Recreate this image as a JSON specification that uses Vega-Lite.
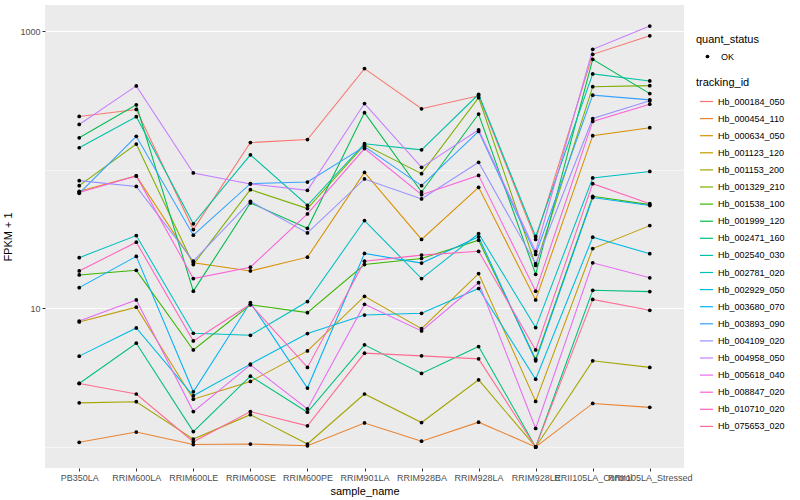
{
"$schema": "https://vega.github.io/schema/vega-lite/v6.json",
"width": 639, "height": 463,
"autosize": {"type": "none"},
"padding": {"left": 45, "top": 5, "right": 116, "bottom": 32},
"background": "white",
"data": {"values": [
{"tracking_id":"Hb_000184_050","sample_name":"PB350LA","fpkm":242,"quant_status":"OK"},
{"tracking_id":"Hb_000184_050","sample_name":"RRIM600LA","fpkm":272,"quant_status":"OK"},
{"tracking_id":"Hb_000184_050","sample_name":"RRIM600LE","fpkm":37.0,"quant_status":"OK"},
{"tracking_id":"Hb_000184_050","sample_name":"RRIM600SE","fpkm":157,"quant_status":"OK"},
{"tracking_id":"Hb_000184_050","sample_name":"RRIM600PE","fpkm":165,"quant_status":"OK"},
{"tracking_id":"Hb_000184_050","sample_name":"RRIM901LA","fpkm":536,"quant_status":"OK"},
{"tracking_id":"Hb_000184_050","sample_name":"RRIM928BA","fpkm":275,"quant_status":"OK"},
{"tracking_id":"Hb_000184_050","sample_name":"RRIM928LA","fpkm":341,"quant_status":"OK"},
{"tracking_id":"Hb_000184_050","sample_name":"RRIM928LE","fpkm":31.4,"quant_status":"OK"},
{"tracking_id":"Hb_000184_050","sample_name":"RRII105LA_Control","fpkm":680,"quant_status":"OK"},
{"tracking_id":"Hb_000184_050","sample_name":"RRII105LA_Stressed","fpkm":925,"quant_status":"OK"},
{"tracking_id":"Hb_000454_110","sample_name":"PB350LA","fpkm":1.08,"quant_status":"OK"},
{"tracking_id":"Hb_000454_110","sample_name":"RRIM600LA","fpkm":1.28,"quant_status":"OK"},
{"tracking_id":"Hb_000454_110","sample_name":"RRIM600LE","fpkm":1.04,"quant_status":"OK"},
{"tracking_id":"Hb_000454_110","sample_name":"RRIM600SE","fpkm":1.05,"quant_status":"OK"},
{"tracking_id":"Hb_000454_110","sample_name":"RRIM600PE","fpkm":1.02,"quant_status":"OK"},
{"tracking_id":"Hb_000454_110","sample_name":"RRIM901LA","fpkm":1.49,"quant_status":"OK"},
{"tracking_id":"Hb_000454_110","sample_name":"RRIM928BA","fpkm":1.10,"quant_status":"OK"},
{"tracking_id":"Hb_000454_110","sample_name":"RRIM928LA","fpkm":1.51,"quant_status":"OK"},
{"tracking_id":"Hb_000454_110","sample_name":"RRIM928LE","fpkm":1.0,"quant_status":"OK"},
{"tracking_id":"Hb_000454_110","sample_name":"RRII105LA_Control","fpkm":2.06,"quant_status":"OK"},
{"tracking_id":"Hb_000454_110","sample_name":"RRII105LA_Stressed","fpkm":1.93,"quant_status":"OK"},
{"tracking_id":"Hb_000634_050","sample_name":"PB350LA","fpkm":69.8,"quant_status":"OK"},
{"tracking_id":"Hb_000634_050","sample_name":"RRIM600LA","fpkm":90.1,"quant_status":"OK"},
{"tracking_id":"Hb_000634_050","sample_name":"RRIM600LE","fpkm":21.3,"quant_status":"OK"},
{"tracking_id":"Hb_000634_050","sample_name":"RRIM600SE","fpkm":18.6,"quant_status":"OK"},
{"tracking_id":"Hb_000634_050","sample_name":"RRIM600PE","fpkm":23.4,"quant_status":"OK"},
{"tracking_id":"Hb_000634_050","sample_name":"RRIM901LA","fpkm":95.6,"quant_status":"OK"},
{"tracking_id":"Hb_000634_050","sample_name":"RRIM928BA","fpkm":31.4,"quant_status":"OK"},
{"tracking_id":"Hb_000634_050","sample_name":"RRIM928LA","fpkm":74.6,"quant_status":"OK"},
{"tracking_id":"Hb_000634_050","sample_name":"RRIM928LE","fpkm":11.5,"quant_status":"OK"},
{"tracking_id":"Hb_000634_050","sample_name":"RRII105LA_Control","fpkm":176,"quant_status":"OK"},
{"tracking_id":"Hb_000634_050","sample_name":"RRII105LA_Stressed","fpkm":201,"quant_status":"OK"},
{"tracking_id":"Hb_001123_120","sample_name":"PB350LA","fpkm":7.97,"quant_status":"OK"},
{"tracking_id":"Hb_001123_120","sample_name":"RRIM600LA","fpkm":10.2,"quant_status":"OK"},
{"tracking_id":"Hb_001123_120","sample_name":"RRIM600LE","fpkm":2.21,"quant_status":"OK"},
{"tracking_id":"Hb_001123_120","sample_name":"RRIM600SE","fpkm":2.97,"quant_status":"OK"},
{"tracking_id":"Hb_001123_120","sample_name":"RRIM600PE","fpkm":4.93,"quant_status":"OK"},
{"tracking_id":"Hb_001123_120","sample_name":"RRIM901LA","fpkm":12.2,"quant_status":"OK"},
{"tracking_id":"Hb_001123_120","sample_name":"RRIM928BA","fpkm":7.14,"quant_status":"OK"},
{"tracking_id":"Hb_001123_120","sample_name":"RRIM928LA","fpkm":17.8,"quant_status":"OK"},
{"tracking_id":"Hb_001123_120","sample_name":"RRIM928LE","fpkm":2.13,"quant_status":"OK"},
{"tracking_id":"Hb_001123_120","sample_name":"RRII105LA_Control","fpkm":27.0,"quant_status":"OK"},
{"tracking_id":"Hb_001123_120","sample_name":"RRII105LA_Stressed","fpkm":39.5,"quant_status":"OK"},
{"tracking_id":"Hb_001153_200","sample_name":"PB350LA","fpkm":2.08,"quant_status":"OK"},
{"tracking_id":"Hb_001153_200","sample_name":"RRIM600LA","fpkm":2.12,"quant_status":"OK"},
{"tracking_id":"Hb_001153_200","sample_name":"RRIM600LE","fpkm":1.14,"quant_status":"OK"},
{"tracking_id":"Hb_001153_200","sample_name":"RRIM600SE","fpkm":1.71,"quant_status":"OK"},
{"tracking_id":"Hb_001153_200","sample_name":"RRIM600PE","fpkm":1.05,"quant_status":"OK"},
{"tracking_id":"Hb_001153_200","sample_name":"RRIM901LA","fpkm":2.41,"quant_status":"OK"},
{"tracking_id":"Hb_001153_200","sample_name":"RRIM928BA","fpkm":1.50,"quant_status":"OK"},
{"tracking_id":"Hb_001153_200","sample_name":"RRIM928LA","fpkm":3.05,"quant_status":"OK"},
{"tracking_id":"Hb_001153_200","sample_name":"RRIM928LE","fpkm":1.0,"quant_status":"OK"},
{"tracking_id":"Hb_001153_200","sample_name":"RRII105LA_Control","fpkm":4.18,"quant_status":"OK"},
{"tracking_id":"Hb_001153_200","sample_name":"RRII105LA_Stressed","fpkm":3.75,"quant_status":"OK"},
{"tracking_id":"Hb_001329_210","sample_name":"PB350LA","fpkm":76.7,"quant_status":"OK"},
{"tracking_id":"Hb_001329_210","sample_name":"RRIM600LA","fpkm":153,"quant_status":"OK"},
{"tracking_id":"Hb_001329_210","sample_name":"RRIM600LE","fpkm":20.7,"quant_status":"OK"},
{"tracking_id":"Hb_001329_210","sample_name":"RRIM600SE","fpkm":71.8,"quant_status":"OK"},
{"tracking_id":"Hb_001329_210","sample_name":"RRIM600PE","fpkm":52.4,"quant_status":"OK"},
{"tracking_id":"Hb_001329_210","sample_name":"RRIM901LA","fpkm":151,"quant_status":"OK"},
{"tracking_id":"Hb_001329_210","sample_name":"RRIM928BA","fpkm":93.6,"quant_status":"OK"},
{"tracking_id":"Hb_001329_210","sample_name":"RRIM928LA","fpkm":331,"quant_status":"OK"},
{"tracking_id":"Hb_001329_210","sample_name":"RRIM928LE","fpkm":20.4,"quant_status":"OK"},
{"tracking_id":"Hb_001329_210","sample_name":"RRII105LA_Control","fpkm":397,"quant_status":"OK"},
{"tracking_id":"Hb_001329_210","sample_name":"RRII105LA_Stressed","fpkm":404,"quant_status":"OK"},
{"tracking_id":"Hb_001538_100","sample_name":"PB350LA","fpkm":17.4,"quant_status":"OK"},
{"tracking_id":"Hb_001538_100","sample_name":"RRIM600LA","fpkm":18.8,"quant_status":"OK"},
{"tracking_id":"Hb_001538_100","sample_name":"RRIM600LE","fpkm":5.01,"quant_status":"OK"},
{"tracking_id":"Hb_001538_100","sample_name":"RRIM600SE","fpkm":10.6,"quant_status":"OK"},
{"tracking_id":"Hb_001538_100","sample_name":"RRIM600PE","fpkm":9.31,"quant_status":"OK"},
{"tracking_id":"Hb_001538_100","sample_name":"RRIM901LA","fpkm":20.7,"quant_status":"OK"},
{"tracking_id":"Hb_001538_100","sample_name":"RRIM928BA","fpkm":22.9,"quant_status":"OK"},
{"tracking_id":"Hb_001538_100","sample_name":"RRIM928LA","fpkm":31.0,"quant_status":"OK"},
{"tracking_id":"Hb_001538_100","sample_name":"RRIM928LE","fpkm":4.30,"quant_status":"OK"},
{"tracking_id":"Hb_001538_100","sample_name":"RRII105LA_Control","fpkm":64.3,"quant_status":"OK"},
{"tracking_id":"Hb_001538_100","sample_name":"RRII105LA_Stressed","fpkm":56.0,"quant_status":"OK"},
{"tracking_id":"Hb_001999_120","sample_name":"PB350LA","fpkm":170,"quant_status":"OK"},
{"tracking_id":"Hb_001999_120","sample_name":"RRIM600LA","fpkm":294,"quant_status":"OK"},
{"tracking_id":"Hb_001999_120","sample_name":"RRIM600LE","fpkm":13.3,"quant_status":"OK"},
{"tracking_id":"Hb_001999_120","sample_name":"RRIM600SE","fpkm":57.6,"quant_status":"OK"},
{"tracking_id":"Hb_001999_120","sample_name":"RRIM600PE","fpkm":37.8,"quant_status":"OK"},
{"tracking_id":"Hb_001999_120","sample_name":"RRIM901LA","fpkm":258,"quant_status":"OK"},
{"tracking_id":"Hb_001999_120","sample_name":"RRIM928BA","fpkm":69.1,"quant_status":"OK"},
{"tracking_id":"Hb_001999_120","sample_name":"RRIM928LA","fpkm":252,"quant_status":"OK"},
{"tracking_id":"Hb_001999_120","sample_name":"RRIM928LE","fpkm":17.6,"quant_status":"OK"},
{"tracking_id":"Hb_001999_120","sample_name":"RRII105LA_Control","fpkm":626,"quant_status":"OK"},
{"tracking_id":"Hb_001999_120","sample_name":"RRII105LA_Stressed","fpkm":354,"quant_status":"OK"},
{"tracking_id":"Hb_002471_160","sample_name":"PB350LA","fpkm":2.87,"quant_status":"OK"},
{"tracking_id":"Hb_002471_160","sample_name":"RRIM600LA","fpkm":5.60,"quant_status":"OK"},
{"tracking_id":"Hb_002471_160","sample_name":"RRIM600LE","fpkm":1.29,"quant_status":"OK"},
{"tracking_id":"Hb_002471_160","sample_name":"RRIM600SE","fpkm":3.24,"quant_status":"OK"},
{"tracking_id":"Hb_002471_160","sample_name":"RRIM600PE","fpkm":1.78,"quant_status":"OK"},
{"tracking_id":"Hb_002471_160","sample_name":"RRIM901LA","fpkm":5.45,"quant_status":"OK"},
{"tracking_id":"Hb_002471_160","sample_name":"RRIM928BA","fpkm":3.39,"quant_status":"OK"},
{"tracking_id":"Hb_002471_160","sample_name":"RRIM928LA","fpkm":5.30,"quant_status":"OK"},
{"tracking_id":"Hb_002471_160","sample_name":"RRIM928LE","fpkm":1.0,"quant_status":"OK"},
{"tracking_id":"Hb_002471_160","sample_name":"RRII105LA_Control","fpkm":13.5,"quant_status":"OK"},
{"tracking_id":"Hb_002471_160","sample_name":"RRII105LA_Stressed","fpkm":13.2,"quant_status":"OK"},
{"tracking_id":"Hb_002540_030","sample_name":"PB350LA","fpkm":144,"quant_status":"OK"},
{"tracking_id":"Hb_002540_030","sample_name":"RRIM600LA","fpkm":241,"quant_status":"OK"},
{"tracking_id":"Hb_002540_030","sample_name":"RRIM600LE","fpkm":40.7,"quant_status":"OK"},
{"tracking_id":"Hb_002540_030","sample_name":"RRIM600SE","fpkm":128,"quant_status":"OK"},
{"tracking_id":"Hb_002540_030","sample_name":"RRIM600PE","fpkm":55.4,"quant_status":"OK"},
{"tracking_id":"Hb_002540_030","sample_name":"RRIM901LA","fpkm":154,"quant_status":"OK"},
{"tracking_id":"Hb_002540_030","sample_name":"RRIM928BA","fpkm":139,"quant_status":"OK"},
{"tracking_id":"Hb_002540_030","sample_name":"RRIM928LA","fpkm":350,"quant_status":"OK"},
{"tracking_id":"Hb_002540_030","sample_name":"RRIM928LE","fpkm":33.0,"quant_status":"OK"},
{"tracking_id":"Hb_002540_030","sample_name":"RRII105LA_Control","fpkm":491,"quant_status":"OK"},
{"tracking_id":"Hb_002540_030","sample_name":"RRII105LA_Stressed","fpkm":437,"quant_status":"OK"},
{"tracking_id":"Hb_002781_020","sample_name":"PB350LA","fpkm":23.2,"quant_status":"OK"},
{"tracking_id":"Hb_002781_020","sample_name":"RRIM600LA","fpkm":33.5,"quant_status":"OK"},
{"tracking_id":"Hb_002781_020","sample_name":"RRIM600LE","fpkm":6.61,"quant_status":"OK"},
{"tracking_id":"Hb_002781_020","sample_name":"RRIM600SE","fpkm":6.39,"quant_status":"OK"},
{"tracking_id":"Hb_002781_020","sample_name":"RRIM600PE","fpkm":11.2,"quant_status":"OK"},
{"tracking_id":"Hb_002781_020","sample_name":"RRIM901LA","fpkm":43.0,"quant_status":"OK"},
{"tracking_id":"Hb_002781_020","sample_name":"RRIM928BA","fpkm":16.4,"quant_status":"OK"},
{"tracking_id":"Hb_002781_020","sample_name":"RRIM928LA","fpkm":34.6,"quant_status":"OK"},
{"tracking_id":"Hb_002781_020","sample_name":"RRIM928LE","fpkm":7.26,"quant_status":"OK"},
{"tracking_id":"Hb_002781_020","sample_name":"RRII105LA_Control","fpkm":87.2,"quant_status":"OK"},
{"tracking_id":"Hb_002781_020","sample_name":"RRII105LA_Stressed","fpkm":97.2,"quant_status":"OK"},
{"tracking_id":"Hb_002929_050","sample_name":"PB350LA","fpkm":4.52,"quant_status":"OK"},
{"tracking_id":"Hb_002929_050","sample_name":"RRIM600LA","fpkm":7.22,"quant_status":"OK"},
{"tracking_id":"Hb_002929_050","sample_name":"RRIM600LE","fpkm":2.34,"quant_status":"OK"},
{"tracking_id":"Hb_002929_050","sample_name":"RRIM600SE","fpkm":3.96,"quant_status":"OK"},
{"tracking_id":"Hb_002929_050","sample_name":"RRIM600PE","fpkm":6.58,"quant_status":"OK"},
{"tracking_id":"Hb_002929_050","sample_name":"RRIM901LA","fpkm":8.95,"quant_status":"OK"},
{"tracking_id":"Hb_002929_050","sample_name":"RRIM928BA","fpkm":9.20,"quant_status":"OK"},
{"tracking_id":"Hb_002929_050","sample_name":"RRIM928LA","fpkm":13.9,"quant_status":"OK"},
{"tracking_id":"Hb_002929_050","sample_name":"RRIM928LE","fpkm":3.08,"quant_status":"OK"},
{"tracking_id":"Hb_002929_050","sample_name":"RRII105LA_Control","fpkm":32.6,"quant_status":"OK"},
{"tracking_id":"Hb_002929_050","sample_name":"RRII105LA_Stressed","fpkm":24.8,"quant_status":"OK"},
{"tracking_id":"Hb_003680_070","sample_name":"PB350LA","fpkm":14.1,"quant_status":"OK"},
{"tracking_id":"Hb_003680_070","sample_name":"RRIM600LA","fpkm":23.7,"quant_status":"OK"},
{"tracking_id":"Hb_003680_070","sample_name":"RRIM600LE","fpkm":2.50,"quant_status":"OK"},
{"tracking_id":"Hb_003680_070","sample_name":"RRIM600SE","fpkm":11.0,"quant_status":"OK"},
{"tracking_id":"Hb_003680_070","sample_name":"RRIM600PE","fpkm":2.66,"quant_status":"OK"},
{"tracking_id":"Hb_003680_070","sample_name":"RRIM901LA","fpkm":24.9,"quant_status":"OK"},
{"tracking_id":"Hb_003680_070","sample_name":"RRIM928BA","fpkm":21.2,"quant_status":"OK"},
{"tracking_id":"Hb_003680_070","sample_name":"RRIM928LA","fpkm":32.8,"quant_status":"OK"},
{"tracking_id":"Hb_003680_070","sample_name":"RRIM928LE","fpkm":4.18,"quant_status":"OK"},
{"tracking_id":"Hb_003680_070","sample_name":"RRII105LA_Control","fpkm":63.0,"quant_status":"OK"},
{"tracking_id":"Hb_003680_070","sample_name":"RRII105LA_Stressed","fpkm":55.1,"quant_status":"OK"},
{"tracking_id":"Hb_003893_090","sample_name":"PB350LA","fpkm":67.5,"quant_status":"OK"},
{"tracking_id":"Hb_003893_090","sample_name":"RRIM600LA","fpkm":174,"quant_status":"OK"},
{"tracking_id":"Hb_003893_090","sample_name":"RRIM600LE","fpkm":33.7,"quant_status":"OK"},
{"tracking_id":"Hb_003893_090","sample_name":"RRIM600SE","fpkm":79.3,"quant_status":"OK"},
{"tracking_id":"Hb_003893_090","sample_name":"RRIM600PE","fpkm":81.5,"quant_status":"OK"},
{"tracking_id":"Hb_003893_090","sample_name":"RRIM901LA","fpkm":147,"quant_status":"OK"},
{"tracking_id":"Hb_003893_090","sample_name":"RRIM928BA","fpkm":76.7,"quant_status":"OK"},
{"tracking_id":"Hb_003893_090","sample_name":"RRIM928LA","fpkm":189,"quant_status":"OK"},
{"tracking_id":"Hb_003893_090","sample_name":"RRIM928LE","fpkm":24.5,"quant_status":"OK"},
{"tracking_id":"Hb_003893_090","sample_name":"RRII105LA_Control","fpkm":345,"quant_status":"OK"},
{"tracking_id":"Hb_003893_090","sample_name":"RRII105LA_Stressed","fpkm":319,"quant_status":"OK"},
{"tracking_id":"Hb_004109_020","sample_name":"PB350LA","fpkm":83.4,"quant_status":"OK"},
{"tracking_id":"Hb_004109_020","sample_name":"RRIM600LA","fpkm":75.8,"quant_status":"OK"},
{"tracking_id":"Hb_004109_020","sample_name":"RRIM600LE","fpkm":21.9,"quant_status":"OK"},
{"tracking_id":"Hb_004109_020","sample_name":"RRIM600SE","fpkm":59.1,"quant_status":"OK"},
{"tracking_id":"Hb_004109_020","sample_name":"RRIM600PE","fpkm":35.0,"quant_status":"OK"},
{"tracking_id":"Hb_004109_020","sample_name":"RRIM901LA","fpkm":85.7,"quant_status":"OK"},
{"tracking_id":"Hb_004109_020","sample_name":"RRIM928BA","fpkm":61.5,"quant_status":"OK"},
{"tracking_id":"Hb_004109_020","sample_name":"RRIM928LA","fpkm":113,"quant_status":"OK"},
{"tracking_id":"Hb_004109_020","sample_name":"RRIM928LE","fpkm":21.0,"quant_status":"OK"},
{"tracking_id":"Hb_004109_020","sample_name":"RRII105LA_Control","fpkm":234,"quant_status":"OK"},
{"tracking_id":"Hb_004109_020","sample_name":"RRII105LA_Stressed","fpkm":314,"quant_status":"OK"},
{"tracking_id":"Hb_004958_050","sample_name":"PB350LA","fpkm":212,"quant_status":"OK"},
{"tracking_id":"Hb_004958_050","sample_name":"RRIM600LA","fpkm":402,"quant_status":"OK"},
{"tracking_id":"Hb_004958_050","sample_name":"RRIM600LE","fpkm":94.7,"quant_status":"OK"},
{"tracking_id":"Hb_004958_050","sample_name":"RRIM600SE","fpkm":79.0,"quant_status":"OK"},
{"tracking_id":"Hb_004958_050","sample_name":"RRIM600PE","fpkm":71.0,"quant_status":"OK"},
{"tracking_id":"Hb_004958_050","sample_name":"RRIM901LA","fpkm":300,"quant_status":"OK"},
{"tracking_id":"Hb_004958_050","sample_name":"RRIM928BA","fpkm":104,"quant_status":"OK"},
{"tracking_id":"Hb_004958_050","sample_name":"RRIM928LA","fpkm":194,"quant_status":"OK"},
{"tracking_id":"Hb_004958_050","sample_name":"RRIM928LE","fpkm":25.7,"quant_status":"OK"},
{"tracking_id":"Hb_004958_050","sample_name":"RRII105LA_Control","fpkm":739,"quant_status":"OK"},
{"tracking_id":"Hb_004958_050","sample_name":"RRII105LA_Stressed","fpkm":1087,"quant_status":"OK"},
{"tracking_id":"Hb_005618_040","sample_name":"PB350LA","fpkm":8.1,"quant_status":"OK"},
{"tracking_id":"Hb_005618_040","sample_name":"RRIM600LA","fpkm":11.5,"quant_status":"OK"},
{"tracking_id":"Hb_005618_040","sample_name":"RRIM600LE","fpkm":1.80,"quant_status":"OK"},
{"tracking_id":"Hb_005618_040","sample_name":"RRIM600SE","fpkm":3.91,"quant_status":"OK"},
{"tracking_id":"Hb_005618_040","sample_name":"RRIM600PE","fpkm":1.88,"quant_status":"OK"},
{"tracking_id":"Hb_005618_040","sample_name":"RRIM901LA","fpkm":10.7,"quant_status":"OK"},
{"tracking_id":"Hb_005618_040","sample_name":"RRIM928BA","fpkm":6.87,"quant_status":"OK"},
{"tracking_id":"Hb_005618_040","sample_name":"RRIM928LA","fpkm":15.3,"quant_status":"OK"},
{"tracking_id":"Hb_005618_040","sample_name":"RRIM928LE","fpkm":1.36,"quant_status":"OK"},
{"tracking_id":"Hb_005618_040","sample_name":"RRII105LA_Control","fpkm":21.3,"quant_status":"OK"},
{"tracking_id":"Hb_005618_040","sample_name":"RRII105LA_Stressed","fpkm":16.6,"quant_status":"OK"},
{"tracking_id":"Hb_008847_020","sample_name":"PB350LA","fpkm":68.5,"quant_status":"OK"},
{"tracking_id":"Hb_008847_020","sample_name":"RRIM600LA","fpkm":90.1,"quant_status":"OK"},
{"tracking_id":"Hb_008847_020","sample_name":"RRIM600LE","fpkm":16.4,"quant_status":"OK"},
{"tracking_id":"Hb_008847_020","sample_name":"RRIM600SE","fpkm":19.8,"quant_status":"OK"},
{"tracking_id":"Hb_008847_020","sample_name":"RRIM600PE","fpkm":48.0,"quant_status":"OK"},
{"tracking_id":"Hb_008847_020","sample_name":"RRIM901LA","fpkm":142,"quant_status":"OK"},
{"tracking_id":"Hb_008847_020","sample_name":"RRIM928BA","fpkm":66.1,"quant_status":"OK"},
{"tracking_id":"Hb_008847_020","sample_name":"RRIM928LA","fpkm":91.0,"quant_status":"OK"},
{"tracking_id":"Hb_008847_020","sample_name":"RRIM928LE","fpkm":13.3,"quant_status":"OK"},
{"tracking_id":"Hb_008847_020","sample_name":"RRII105LA_Control","fpkm":223,"quant_status":"OK"},
{"tracking_id":"Hb_008847_020","sample_name":"RRII105LA_Stressed","fpkm":297,"quant_status":"OK"},
{"tracking_id":"Hb_010710_020","sample_name":"PB350LA","fpkm":18.6,"quant_status":"OK"},
{"tracking_id":"Hb_010710_020","sample_name":"RRIM600LA","fpkm":30.0,"quant_status":"OK"},
{"tracking_id":"Hb_010710_020","sample_name":"RRIM600LE","fpkm":5.82,"quant_status":"OK"},
{"tracking_id":"Hb_010710_020","sample_name":"RRIM600SE","fpkm":10.7,"quant_status":"OK"},
{"tracking_id":"Hb_010710_020","sample_name":"RRIM600PE","fpkm":3.75,"quant_status":"OK"},
{"tracking_id":"Hb_010710_020","sample_name":"RRIM901LA","fpkm":21.9,"quant_status":"OK"},
{"tracking_id":"Hb_010710_020","sample_name":"RRIM928BA","fpkm":24.2,"quant_status":"OK"},
{"tracking_id":"Hb_010710_020","sample_name":"RRIM928LA","fpkm":25.8,"quant_status":"OK"},
{"tracking_id":"Hb_010710_020","sample_name":"RRIM928LE","fpkm":5.01,"quant_status":"OK"},
{"tracking_id":"Hb_010710_020","sample_name":"RRII105LA_Control","fpkm":79.3,"quant_status":"OK"},
{"tracking_id":"Hb_010710_020","sample_name":"RRII105LA_Stressed","fpkm":56.9,"quant_status":"OK"},
{"tracking_id":"Hb_075653_020","sample_name":"PB350LA","fpkm":2.87,"quant_status":"OK"},
{"tracking_id":"Hb_075653_020","sample_name":"RRIM600LA","fpkm":2.41,"quant_status":"OK"},
{"tracking_id":"Hb_075653_020","sample_name":"RRIM600LE","fpkm":1.09,"quant_status":"OK"},
{"tracking_id":"Hb_075653_020","sample_name":"RRIM600SE","fpkm":1.80,"quant_status":"OK"},
{"tracking_id":"Hb_075653_020","sample_name":"RRIM600PE","fpkm":1.42,"quant_status":"OK"},
{"tracking_id":"Hb_075653_020","sample_name":"RRIM901LA","fpkm":4.75,"quant_status":"OK"},
{"tracking_id":"Hb_075653_020","sample_name":"RRIM928BA","fpkm":4.54,"quant_status":"OK"},
{"tracking_id":"Hb_075653_020","sample_name":"RRIM928LA","fpkm":4.32,"quant_status":"OK"},
{"tracking_id":"Hb_075653_020","sample_name":"RRIM928LE","fpkm":1.0,"quant_status":"OK"},
{"tracking_id":"Hb_075653_020","sample_name":"RRII105LA_Control","fpkm":11.6,"quant_status":"OK"},
{"tracking_id":"Hb_075653_020","sample_name":"RRII105LA_Stressed","fpkm":9.67,"quant_status":"OK"}
]},
"encoding": {
  "x": {"field": "sample_name", "type": "ordinal",
        "sort": ["PB350LA","RRIM600LA","RRIM600LE","RRIM600SE","RRIM600PE","RRIM901LA","RRIM928BA","RRIM928LA","RRIM928LE","RRII105LA_Control","RRII105LA_Stressed"],
        "scale": {"type": "point", "padding": 0.6},
        "axis": {"title": "sample_name", "labelAngle": 0, "labelOverlap": false, "labelBound": false, "labelFlush": false, "gridWidth": 1.1, "titlePadding": 3}},
  "y": {"field": "fpkm", "type": "quantitative",
        "scale": {"type": "log", "domain": [0.705, 1542], "nice": false, "zero": false},
        "axis": {"title": "FPKM + 1", "values": [1, 10, 100, 1000], "format": "d",
                 "labelExpr": "datum.value == 10 || datum.value == 1000 ? datum.label : ''",
                 "tickOpacity": {"condition": {"test": "datum.value == 10 || datum.value == 1000", "value": 1}, "value": 0},
                 "gridWidth": {"condition": {"test": "datum.value == 10 || datum.value == 1000", "value": 1.1}, "value": 0.55},
                 "titlePadding": 6}}
},
"layer": [
  {"mark": {"type": "line", "strokeWidth": 1.05},
   "encoding": {
     "color": {"field": "tracking_id", "type": "nominal",
               "scale": {"range": ["#F8766D","#EA8331","#D89000","#C09B00","#A3A500","#7CAE00","#39B600","#00BB4E","#00BF7D","#00C1A3","#00BFC4","#00BAE0","#00B0F6","#35A2FF","#9590FF","#C77CFF","#E76BF3","#FA62DB","#FF62BC","#FF6C91"]},
               "legend": {"title": "tracking_id", "orient": "none", "legendX": 651, "legendY": 72, "symbolType": "stroke", "symbolSize": 169, "symbolStrokeWidth": 1.2, "symbolOffset": 3, "labelOffset": 4, "rowPadding": 4.1, "titlePadding": 6}},
     "order": {"value": null}}},
  {"mark": {"type": "point", "filled": true, "color": "black", "size": 14, "opacity": 1},
   "encoding": {
     "shape": {"field": "quant_status", "type": "nominal", "scale": {"range": ["circle"]},
               "legend": {"title": "quant_status", "orient": "none", "legendX": 651, "legendY": 29, "symbolSize": 14, "symbolFillColor": "black", "symbolStrokeColor": "black", "symbolOffset": 7, "labelOffset": 9, "titlePadding": 7}}}}
],
"config": {
  "view": {"fill": "#EBEBEB", "stroke": null},
  "font": "Liberation Sans",
  "axis": {"domain": false, "gridColor": "#FFFFFF", "tickColor": "#333333", "tickSize": 3, "tickWidth": 1,
           "labelColor": "#4D4D4D", "labelFontSize": 9, "labelPadding": 2, "labelFont": "Liberation Sans",
           "titleFontSize": 11, "titleColor": "#000000", "titleFontWeight": "normal", "titleFont": "Liberation Sans"},
  "legend": {"titleFontSize": 11, "titleFontWeight": "normal", "titleColor": "#000000", "labelFontSize": 9, "labelColor": "#000000", "titleFont": "Liberation Sans", "labelFont": "Liberation Sans"}
}
}
